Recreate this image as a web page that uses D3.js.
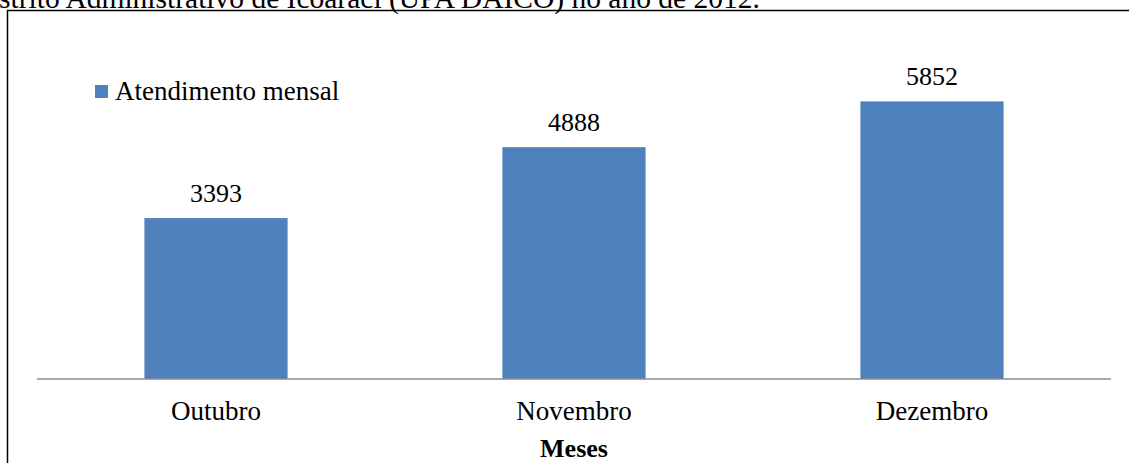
<!DOCTYPE html>
<head>
  <meta charset="utf-8">
  <script src="https://d3js.org/d3.v7.min.js"></script>
</head>
<style>
  body { margin: 0; background: #fff; }
  text { font-family: "Liberation Serif", "Times New Roman", serif; fill: #000; }
</style>
<body>
<div id="chart"></div>
<script>
'use strict';

var months = ["Outubro", "Novembro", "Dezembro"];
var attendance = [3393, 4888, 5852];
var seriesName = "Atendimento mensal";
var xTitle = "Meses";
var caption = "strito Administrativo de Icoaraci (UPA DAICO) no ano de 2012.";

var width = 1129, height = 463;
var plot = {left: 37, right: 1111, top: 47, bottom: 379};

var svg = d3.select("#chart").append("svg")
  .attr("width", width).attr("height", height);

// caption line from the document, cut off by the top of the page
svg.append("text")
  .attr("x", -1).attr("y", 8)
  .style("font-size", "29.5px")
  .text(caption);

// chart frame (top and left edges visible)
svg.append("path")
  .attr("d", "M7.5," + height + "V10.5H" + width)
  .attr("fill", "none")
  .attr("stroke", "#000")
  .attr("stroke-width", 1.5);

var x = d3.scaleBand().domain(months).range([plot.left, plot.right]).paddingInner(0.6).paddingOuter(0.3);
var y = d3.scaleLinear().domain([0, 7000]).range([plot.bottom, plot.top]);

var data = months.map(function(m, i) { return {month: m, value: attendance[i]}; });

svg.append("g").selectAll("rect").data(data).enter().append("rect")
  .attr("x", d => x(d.month))
  .attr("y", d => y(d.value))
  .attr("width", x.bandwidth())
  .attr("height", d => y(0) - y(d.value))
  .attr("fill", "#4F81BD");

svg.append("g").selectAll("text").data(data).enter().append("text")
  .attr("x", d => x(d.month) + x.bandwidth() / 2)
  .attr("y", d => y(d.value) - 16)
  .attr("text-anchor", "middle")
  .style("font-size", "26px")
  .text(d => d.value);

// category axis
var axis = svg.append("g").attr("transform", "translate(0," + plot.bottom + ")")
  .call(d3.axisBottom(x).tickSize(0).tickPadding(0));
axis.select(".domain").attr("stroke", "#8c8c8c").attr("stroke-width", 1.5)
  .attr("d", "M" + plot.left + ",0H" + plot.right);
axis.selectAll(".tick text")
  .attr("dy", 0).attr("y", 41)
  .style("font-family", "'Liberation Serif', 'Times New Roman', serif")
  .style("font-size", "27px").style("fill", "#000");

svg.append("text")
  .attr("x", x("Novembro") + x.bandwidth() / 2)
  .attr("y", 457)
  .attr("text-anchor", "middle")
  .style("font-size", "26px")
  .style("font-weight", "bold")
  .text(xTitle);

// legend
var legend = svg.append("g").attr("transform", "translate(95,85)");
legend.append("rect").attr("width", 13).attr("height", 13).attr("fill", "#4F81BD");
legend.append("text").attr("x", 20).attr("y", 15).style("font-size", "27px").text(seriesName);
</script>
</body>
